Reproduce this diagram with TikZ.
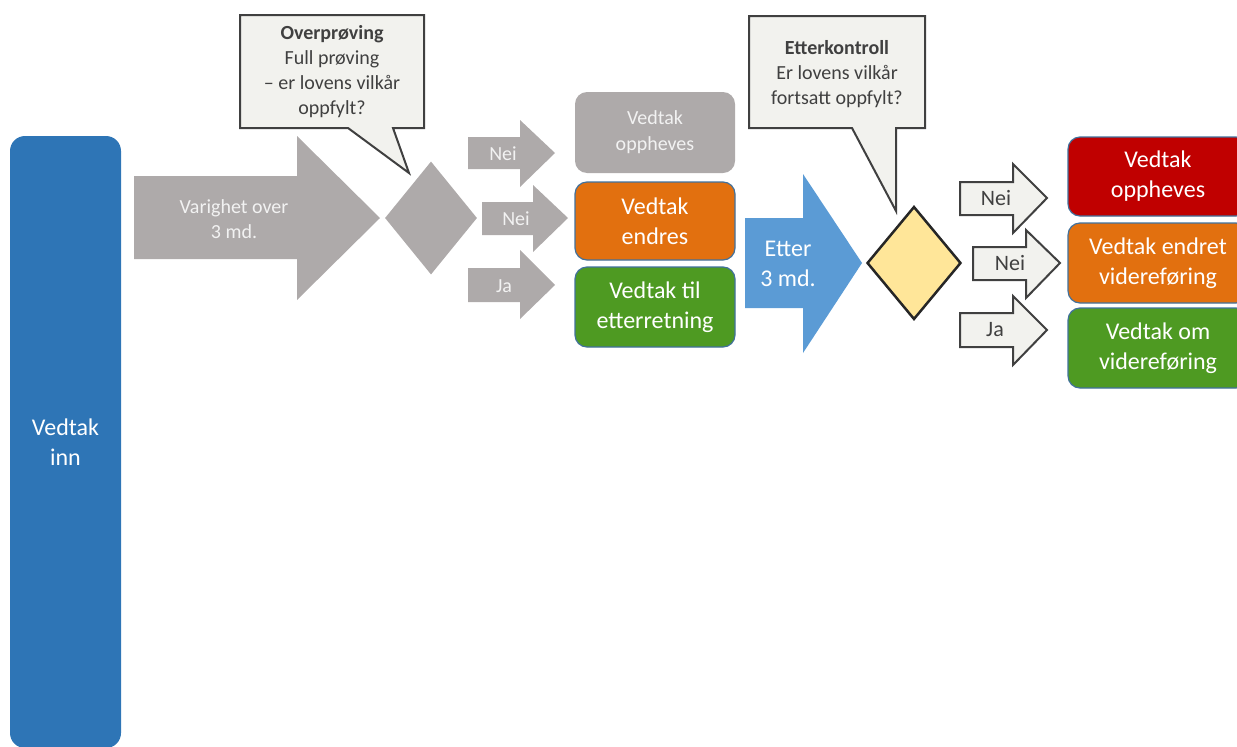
\documentclass[tikz,border=0pt]{standalone}
\usepackage{fontspec}
\setmainfont{Carlito}
\usetikzlibrary{shapes.geometric}

\definecolor{inblue}{HTML}{2E75B6}
\definecolor{stepgray}{HTML}{AEAAAA}
\definecolor{notefill}{HTML}{F2F2EE}
\definecolor{noteedge}{HTML}{404040}
\definecolor{boxedge}{HTML}{41719C}
\definecolor{ordorange}{HTML}{E2700F}
\definecolor{ordgreen}{HTML}{4E9A22}
\definecolor{ordred}{HTML}{C00000}
\definecolor{afterblue}{HTML}{5B9BD5}
\definecolor{checkyellow}{HTML}{FFE699}
\definecolor{softwhite}{HTML}{F2F2F2}

\begin{document}
\begin{tikzpicture}[x=1pt,y=-1pt,
  outcome/.style={rounded corners=12, draw=boxedge, line width=1.2,
    text=white, align=center, inner sep=0,
    font=\fontsize{24}{30}\selectfont},
  note/.style={fill=notefill, draw=noteedge, line width=2, line join=miter},
  notetext/.style={text=noteedge, align=center, inner sep=0,
    font=\fontsize{20}{25}\selectfont},
  grayarrow/.style={fill=stepgray},
  whitearrow/.style={fill=notefill, draw=noteedge, line width=2, line join=miter},
  graylabel/.style={text=softwhite, inner sep=0, font=\fontsize{20}{24}\selectfont},
  darklabel/.style={text=noteedge, inner sep=0, font=\fontsize{22}{26}\selectfont},
  decision/.style={diamond, inner sep=0, shape aspect=1}
]
\useasboundingbox (0,0) rectangle (1237,747);

% incoming decisions
\node[rounded corners=15, fill=inblue, minimum width=111, minimum height=612,
      inner sep=0, text=white, align=center, font=\fontsize{24}{30}\selectfont]
  (inn) at (65.5,442) {Vedtak\\inn};

% first review step
\fill[grayarrow] (134,176) -- (297,176) -- (297,136) -- (380,218) -- (297,300)
  -- (297,259) -- (134,259) -- cycle;
\node[text=softwhite, align=center, inner sep=0, font=\fontsize{20}{25}\selectfont]
  (varighet) at (234,219) {Varighet over\\3 md.};

\node[decision, fill=stepgray, minimum width=92, minimum height=113]
  (review) at (431,218) {};

\draw[note] (240,15) -- (424,15) -- (424,128) -- (393,128) -- (409,173)
  -- (348,128) -- (240,128) -- cycle;
\node[notetext] (overproving) at (332,72)
  {\textbf{Overprøving}\\Full prøving\\– er lovens vilkår\\oppfylt?};

% outcomes of the review
\fill[grayarrow] (468,137) -- (520,137) -- (520,120) -- (555,153) -- (520,187)
  -- (520,169) -- (468,169) -- cycle;
\node[graylabel] (nei1) at (503,154) {Nei};
\fill[grayarrow] (482,202) -- (533,202) -- (533,185) -- (568,218) -- (533,252)
  -- (533,235) -- (482,235) -- cycle;
\node[graylabel] (nei2) at (516,219) {Nei};
\fill[grayarrow] (468,268) -- (520,268) -- (520,250) -- (555,285) -- (520,319)
  -- (520,302) -- (468,302) -- cycle;
\node[graylabel] (ja1) at (504,286) {Ja};

\node[outcome, fill=stepgray, draw=none, minimum width=160, minimum height=81,
      text=softwhite, font=\fontsize{20}{26}\selectfont]
  (opphevesA) at (655,132.5) {Vedtak\\oppheves};
\node[outcome, fill=ordorange, minimum width=160, minimum height=78]
  (endres) at (655,221) {Vedtak\\endres};
\node[outcome, fill=ordgreen, minimum width=160, minimum height=80]
  (etterretning) at (655,307) {Vedtak til\\etterretning};

% follow-up control
\fill[afterblue] (745,218) -- (803,218) -- (803,174) -- (862,263) -- (803,353)
  -- (803,308) -- (745,308) -- cycle;
\node[text=white, align=center, inner sep=0, font=\fontsize{24}{30}\selectfont]
  (etter) at (788,264) {Etter\\3 md.};

\node[decision, fill=checkyellow, draw=black!85, line width=2.5,
      minimum width=94, minimum height=113] (control) at (914,263) {};

\draw[note] (749,16) -- (925,16) -- (925,128) -- (896,128) -- (896,211)
  -- (852,128) -- (749,128) -- cycle;
\node[notetext] (etterkontroll) at (837,74)
  {\textbf{Etterkontroll}\\Er lovens vilkår\\fortsatt oppfylt?};

% outcomes of the control
\draw[whitearrow] (960,182) -- (1013,182) -- (1013,164) -- (1047,198) -- (1013,233)
  -- (1013,215) -- (960,215) -- cycle;
\node[darklabel] (nei3) at (996,198) {Nei};
\draw[whitearrow] (973,247) -- (1026,247) -- (1026,230) -- (1060,263) -- (1026,298)
  -- (1026,280) -- (973,280) -- cycle;
\node[darklabel] (nei4) at (1010,263) {Nei};
\draw[whitearrow] (960,313) -- (1013,313) -- (1013,296) -- (1047,330) -- (1013,365)
  -- (1013,347) -- (960,347) -- cycle;
\node[darklabel] (ja2) at (995,330) {Ja};

\node[outcome, fill=ordred, minimum width=180, minimum height=79]
  (opphevesB) at (1158,176.5) {Vedtak\\oppheves};
\node[outcome, fill=ordorange, minimum width=180, minimum height=80]
  (endret) at (1158,263) {Vedtak endret\\videreføring};
\node[outcome, fill=ordgreen, minimum width=180, minimum height=80]
  (videre) at (1158,348) {Vedtak om\\videreføring};
\end{tikzpicture}
\end{document}
